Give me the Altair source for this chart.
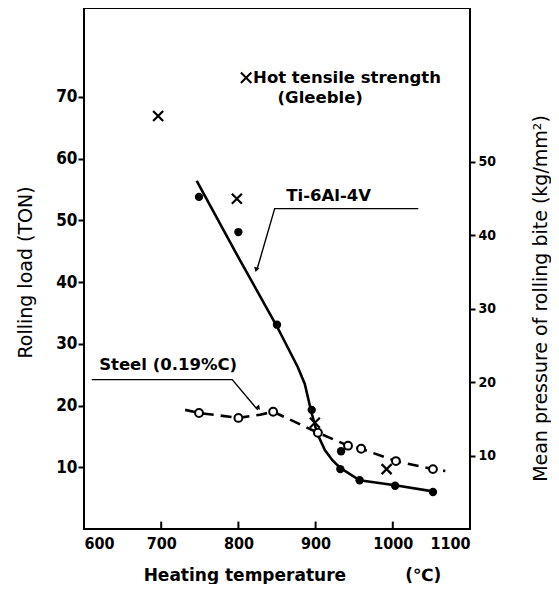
import altair as alt
import pandas as pd

# ---------------- data ----------------
# Ti-6Al-4V rolling load (filled circles)
ti_temp = [749, 800, 850, 895, 933, 932, 957, 1003, 1052]
ti_load = [53.8, 48.1, 33.1, 19.3, 12.6, 9.7, 7.9, 7.0, 6.0]
# Ti-6Al-4V drawn curve (traced)
ti_curve_temp = [746, 800, 850, 877, 886, 894, 902, 912, 922, 932, 957, 1003, 1052]
ti_curve_load = [56.4, 44.0, 32.8, 26.2, 23.5, 19.2, 15.5, 12.8, 11.1, 9.9, 7.9, 7.1, 6.1]

# Steel (0.19%C) rolling load (open circles)
steel_temp = [749, 800, 845, 903, 942, 959, 1004, 1052]
steel_load = [18.8, 18.0, 19.0, 15.6, 13.5, 13.0, 11.0, 9.7]
# Steel dashed curve (traced)
steel_curve_temp = [731, 749, 800, 828, 845, 903, 942, 959, 1004, 1052, 1068]
steel_curve_load = [19.3, 18.8, 18.0, 18.5, 19.0, 15.6, 13.5, 13.0, 11.0, 9.7, 9.4]

# Hot tensile strength (Gleeble) crosses
hot_temp = [696, 798, 899, 992]
hot_load = [66.9, 53.5, 17.2, 9.7]

# axes
x_ticks = [600, 700, 800, 900, 1000, 1100]
x_inner_ticks = [700, 800, 900, 1000]
x_inner_tick_base = [0.0, 0.0, 0.0, 0.0]
x_inner_tick_top = [1.2, 1.2, 1.2, 1.2]
left_ticks = [10, 20, 30, 40, 50, 60, 70]
right_ticks = [10, 20, 30, 40, 50]

# annotations
leader_group = ["ti", "ti", "ti", "steel", "steel", "steel"]
leader_order = [0, 1, 2, 0, 1, 2]
leader_temp = [1033, 847, 824, 610, 792, 825]
leader_load = [51.9, 51.9, 42.0, 24.2, 24.2, 19.3]
arrow_temp = [823, 826]
arrow_load = [42.0, 19.6]
arrow_angle = [16, 320]

label_text = ["Ti-6Al-4V", "Steel (0.19%C)", "(Gleeble)"]
label_temp = [917, 709, 906]
label_load = [54.0, 26.5, 69.9]
legend_text = ["Hot tensile strength"]
legend_temp = [819]
legend_load = [73.1]
legend_mark_temp = [810]
legend_mark_load = [73.1]

NB = "\u00a0"
x_title = "Heating temperature" + NB * 10 + "(℃)"

# ---------------- chart ----------------
FONT = "DejaVu Sans"
TICKFONT = "DejaVu Sans Condensed, DejaVu Sans"

x_scale = alt.Scale(domain=[600, 1100], nice=False, zero=False)
y_scale = alt.Scale(domain=[0, 84.4], nice=False, zero=False)

X = alt.X("t:Q", scale=x_scale, axis=alt.Axis(
    values=x_ticks, title=x_title, format="d",
    ticks=False, domain=False, labelFont=TICKFONT, labelFontSize=16,
    labelFontWeight="bold", labelPadding=6, labelColor="black",
    titleFont=FONT, titleFontSize=17, titleFontWeight="bold",
    titleX=208, titleY=46, titleBaseline="middle",
    titleAlign="center", titleColor="black", grid=False))
Y = alt.Y("v:Q", scale=y_scale, axis=alt.Axis(
    values=left_ticks, title="Rolling load (TON)", format="d",
    tickSize=6, tickWidth=2, tickColor="black", domain=False,
    labelFont=TICKFONT, labelFontSize=17, labelFontWeight="bold",
    labelPadding=1, labelColor="black",
    titleFont=FONT, titleFontSize=19, titleFontWeight="normal",
    titleX=-59, titleY=264, titleAngle=270, titleBaseline="middle",
    titleAlign="center", titleColor="black", grid=False))

ti_line_df = pd.DataFrame({"t": ti_curve_temp, "v": ti_curve_load})
steel_line_df = pd.DataFrame({"t": steel_curve_temp, "v": steel_curve_load})
ti_df = pd.DataFrame({"t": ti_temp, "v": ti_load})
steel_df = pd.DataFrame({"t": steel_temp, "v": steel_load})
hot_df = pd.DataFrame({"t": hot_temp, "v": hot_load})
lead_df = pd.DataFrame({"g": leader_group, "o": leader_order,
                        "t": leader_temp, "v": leader_load})
arrow_df = pd.DataFrame({"t": arrow_temp, "v": arrow_load, "a": arrow_angle})
label_df = pd.DataFrame({"t": label_temp, "v": label_load, "s": label_text})
legend_df = pd.DataFrame({"t": legend_temp, "v": legend_load, "s": legend_text})
legend_mark_df = pd.DataFrame({"t": legend_mark_temp, "v": legend_mark_load})
right_df = pd.DataFrame({"t": [600] * len(right_ticks), "p": right_ticks})

# inward x ticks: rule from base to top in data units
tick_df = pd.DataFrame({"t": x_inner_ticks, "v": x_inner_tick_base,
                        "top": x_inner_tick_top})

CROSS = "M-1,-1L1,1M1,-1L-1,1"

inner_ticks = alt.Chart(tick_df).mark_rule(
    color="black", strokeWidth=2, opacity=1).encode(
    x=X, y=Y, y2=alt.Y2("top:Q"))

ti_line = alt.Chart(ti_line_df).mark_line(color="black", strokeWidth=2.6).encode(
    x=X, y=Y)
steel_line = alt.Chart(steel_line_df).mark_line(
    color="black", strokeWidth=2.6, strokeDash=[11, 7]).encode(x=X, y=Y)

leaders = alt.Chart(lead_df).mark_line(color="black", strokeWidth=1.4).encode(
    x=X, y=Y, detail="g:N", order="o:Q")
arrows = alt.Chart(arrow_df).mark_point(
    shape="triangle-down", filled=True, color="black", size=30, opacity=1).encode(
    x=X, y=Y, angle=alt.Angle("a:Q", scale=None))

ti_pts = alt.Chart(ti_df).mark_point(
    shape="circle", filled=True, color="black", size=70, opacity=1).encode(x=X, y=Y)
steel_pts = alt.Chart(steel_df).mark_point(
    shape="circle", filled=True, fill="white", stroke="black", strokeWidth=2,
    size=62, opacity=1).encode(x=X, y=Y)
hot_pts = alt.Chart(hot_df).mark_point(
    shape=CROSS, filled=False, stroke="black", strokeWidth=2.2, size=100,
    opacity=1).encode(x=X, y=Y)

labels = alt.Chart(label_df).mark_text(
    font=FONT, fontSize=16.5, fontWeight="bold", align="center",
    baseline="middle", color="black").encode(x=X, y=Y, text="s:N")
legend_txt = alt.Chart(legend_df).mark_text(
    font=FONT, fontSize=16.5, fontWeight="bold", align="left",
    baseline="middle", color="black").encode(x=X, y=Y, text="s:N")
legend_mark = alt.Chart(legend_mark_df).mark_point(
    shape=CROSS, filled=False, stroke="black", strokeWidth=2, size=110,
    opacity=1).encode(x=X, y=Y)

left_layers = alt.layer(steel_line, ti_line, leaders, arrows,
                        ti_pts, steel_pts, hot_pts, labels, legend_txt,
                        legend_mark, inner_ticks)

right_axis = alt.Chart(right_df).mark_point(opacity=0).encode(
    x=X,
    y=alt.Y("p:Q", scale=alt.Scale(domain=[0, 70.9], nice=False, zero=False),
            axis=alt.Axis(orient="right", values=right_ticks, format="d",
                          title="Mean pressure of rolling bite (kg/mm²)",
                          tickSize=5, tickWidth=2, tickColor="black",
                          domain=False, labelFont=TICKFONT, labelFontSize=14,
                          labelFontWeight="bold", labelPadding=3,
                          labelColor="black", titleFont=FONT,
                          titleFontSize=19, titleFontWeight="normal",
                          titleX=70, titleY=290, titleAngle=270,
                          titleBaseline="middle", titleAlign="center",
                          titleColor="black", grid=False)))

chart = alt.layer(left_layers, right_axis).resolve_scale(y="independent").properties(
    width=386, height=521,
    autosize=alt.AutoSizeParams(type="none"),
    padding={"left": 76, "top": 0, "right": 81, "bottom": 55},
    background="white",
).configure_view(stroke="black", strokeWidth=2)

chart.save("out.html", embed_options={"renderer": "svg", "actions": False})
